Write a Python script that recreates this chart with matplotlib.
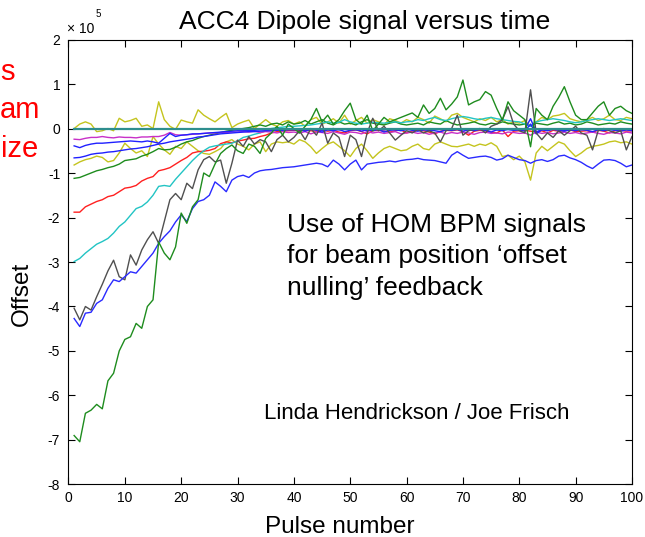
import numpy as np
import matplotlib.pyplot as plt

plt.rcParams['font.family'] = ['Liberation Sans', 'DejaVu Sans']

# pulse index
pulses = np.arange(1, 101)

# dipole offset per pulse, in units of 1e5
green_big = [
    -6.90, -7.04, -6.40, -6.33, -6.20, -6.30, -5.67, -5.50, -5.00, -4.74,
    -4.68, -4.38, -4.49, -4.00, -3.85, -2.55, -2.80, -2.95, -2.66, -1.90,
    -2.13, -1.76, -1.60, -1.00, -1.08, -0.80, -0.56, -0.45, -0.37, -0.50,
    -0.56, -0.35, -0.40, -0.56, -0.22, -0.10, 0.05, -0.15, 0.10, 0.00,
    -0.10, 0.05, 0.20, 0.45, 0.15, 0.30, 0.10, 0.20, 0.40, 0.57,
    0.20, 0.10, 0.30, -0.05, 0.10, 0.25, 0.15, 0.20, 0.25, 0.30,
    0.35, 0.25, 0.53, 0.34, 0.45, 0.68, 0.42, 0.55, 0.71, 1.09,
    0.53, 0.60, 0.65, 0.83, 0.75, 0.45, 0.19, 0.60, 0.40, 0.30,
    0.20, -0.41, 0.45, 0.30, 0.20, 0.50, 0.70, 0.94, 0.60, 0.30,
    0.20, 0.20, 0.35, 0.50, 0.60, 0.30, 0.45, 0.50, 0.40, 0.34]

blue_big = [
    -4.27, -4.45, -4.15, -4.13, -3.93, -3.85, -3.59, -3.40, -3.44, -3.33,
    -3.22, -3.25, -3.10, -2.95, -2.80, -2.58, -2.43, -2.30, -2.10, -1.94,
    -2.09, -1.80, -1.64, -1.60, -1.50, -1.20, -1.30, -1.42, -1.16, -1.08,
    -1.05, -1.10, -1.00, -0.95, -0.93, -0.92, -0.90, -0.88, -0.87, -0.86,
    -0.84, -0.82, -0.80, -0.78, -0.80, -0.86, -0.71, -0.80, -0.93, -0.80,
    -0.71, -0.93, -0.80, -0.78, -0.76, -0.75, -0.73, -0.75, -0.72, -0.70,
    -0.69, -0.67, -0.70, -0.71, -0.72, -0.75, -0.78, -0.60, -0.52, -0.60,
    -0.67, -0.65, -0.63, -0.62, -0.65, -0.71, -0.68, -0.60, -0.65, -0.70,
    -0.72, -0.78, -0.72, -0.70, -0.74, -0.70, -0.62, -0.60, -0.66, -0.70,
    -0.76, -0.84, -0.90, -0.80, -0.71, -0.70, -0.72, -0.78, -0.86, -0.82]

gray_big = [
    -4.04, -4.30, -4.00, -4.08, -3.78, -3.50, -3.20, -2.96, -3.33, -3.40,
    -2.84, -3.07, -2.73, -2.50, -2.32, -2.58, -2.09, -1.60, -1.46, -1.60,
    -1.23, -1.35, -0.93, -0.70, -0.63, -0.75, -0.71, -1.23, -0.78, -0.26,
    -0.40, -0.18, -0.35, -0.25, -0.30, -0.52, -0.25, -0.15, -0.30, -0.20,
    -0.05, -0.25, 0.00, -0.15, 0.12, -0.33, -0.10, -0.20, -0.63, -0.15,
    -0.25, -0.63, -0.10, 0.23, -0.05, 0.05, -0.10, -0.26, -0.15, -0.05,
    -0.10, -0.02, -0.10, -0.05, -0.10, -0.30, -0.05, 0.00, 0.30, -0.15,
    -0.05, -0.02, 0.00, -0.10, 0.05, 0.10, 0.20, 0.49, 0.10, -0.05,
    -0.10, 0.87, -0.10, -0.25, -0.10, -0.20, -0.05, -0.15, -0.05, 0.05,
    -0.10, -0.15, -0.48, -0.05, 0.00, -0.05, -0.10, -0.05, -0.48, -0.18]

cyan_sig = [
    -2.99, -2.92, -2.80, -2.70, -2.60, -2.54, -2.47, -2.35, -2.20, -2.10,
    -1.95, -1.80, -1.75, -1.65, -1.50, -1.30, -1.28, -1.30, -1.14, -1.00,
    -0.86, -0.72, -0.60, -0.50, -0.42, -0.39, -0.37, -0.35, -0.33, -0.28,
    -0.20, -0.17, -0.13, -0.10, -0.05, 0.00, 0.02, 0.03, 0.05, 0.05,
    0.06, 0.07, 0.08, 0.10, 0.12, 0.15, 0.12, 0.14, 0.20, 0.15,
    0.12, 0.10, 0.12, 0.14, 0.13, 0.12, 0.14, 0.15, 0.13, 0.15,
    0.16, 0.20, 0.18, 0.22, 0.25, 0.20, 0.18, 0.22, 0.25, 0.27,
    0.25, 0.22, 0.20, 0.23, 0.25, 0.22, 0.20, 0.18, 0.16, 0.15,
    0.10, 0.05, 0.15, 0.18, 0.20, 0.22, 0.20, 0.18, 0.15, 0.13,
    0.15, 0.18, 0.20, 0.22, 0.20, 0.18, 0.20, 0.22, 0.20, 0.18]

red_sig = [
    -1.88, -1.88, -1.76, -1.70, -1.64, -1.60, -1.53, -1.50, -1.42, -1.34,
    -1.32, -1.28, -1.18, -1.12, -1.08, -0.95, -0.92, -0.88, -0.80, -0.72,
    -0.65, -0.55, -0.52, -0.51, -0.49, -0.45, -0.34, -0.30, -0.32, -0.28,
    -0.26, -0.23, -0.22, -0.18, -0.15, -0.10, -0.07, -0.06, -0.05, -0.04,
    -0.05, -0.04, -0.05, -0.06, -0.03, -0.06, -0.04, -0.08, -0.10, -0.05,
    -0.03, -0.07, -0.12, -0.05, -0.04, -0.06, -0.08, -0.05, -0.03, -0.10,
    -0.06, -0.04, -0.05, -0.08, -0.12, -0.06, -0.04, -0.05, -0.03, -0.07,
    -0.15, -0.06, -0.04, -0.05, -0.08, -0.10, -0.03, -0.18, -0.06, -0.05,
    -0.04, -0.06, -0.08, -0.05, -0.10, -0.04, -0.06, -0.05, -0.03, -0.07,
    -0.06, -0.05, -0.08, -0.04, -0.06, -0.10, -0.05, -0.04, -0.06, -0.05]

green_sig = [
    -1.12, -1.10, -1.05, -1.00, -0.95, -0.92, -0.88, -0.85, -0.80, -0.72,
    -0.70, -0.68, -0.62, -0.58, -0.52, -0.45, -0.48, -0.47, -0.42, -0.35,
    -0.30, -0.27, -0.22, -0.18, -0.15, -0.12, -0.09, -0.06, -0.04, -0.02,
    0.00, 0.02, 0.05, 0.08, 0.05, 0.10, 0.12, 0.08, 0.15, 0.10,
    0.12, 0.18, 0.10, 0.15, 0.20, 0.12, 0.08, 0.15, 0.10, 0.12,
    0.08, 0.15, 0.20, 0.12, 0.10, 0.08, 0.12, 0.15, 0.10, 0.08,
    0.10, 0.12, 0.08, 0.15, 0.12, 0.10, 0.18, 0.12, 0.08, 0.10,
    0.12, 0.15, 0.10, 0.08, 0.12, 0.10, 0.15, 0.12, 0.10, 0.08,
    0.10, 0.05, 0.12, 0.10, 0.08, 0.12, 0.15, 0.10, 0.12, 0.08,
    0.10, 0.15, 0.12, 0.08, 0.10, 0.12, 0.10, 0.15, 0.12, 0.10]

blue_mid = [
    -0.66, -0.65, -0.62, -0.58, -0.56, -0.55, -0.53, -0.52, -0.50, -0.48,
    -0.46, -0.45, -0.43, -0.41, -0.38, -0.35, -0.33, -0.30, -0.28, -0.26,
    -0.24, -0.22, -0.19, -0.18, -0.16, -0.14, -0.12, -0.11, -0.10, -0.09,
    -0.08, -0.07, -0.07, -0.06, -0.05, -0.05, -0.04, -0.04, -0.03, -0.03,
    -0.02, -0.03, -0.01, -0.02, -0.04, -0.02, 0.00, -0.03, -0.02, -0.01,
    -0.03, -0.02, -0.05, -0.01, -0.02, -0.03, -0.01, -0.02, -0.04, -0.02,
    -0.01, -0.03, -0.02, -0.05, -0.02, -0.01, -0.03, -0.02, -0.01, -0.02,
    -0.03, -0.02, -0.01, -0.04, -0.02, -0.03, -0.01, -0.02, -0.03, -0.02,
    -0.01, 0.22, -0.08, -0.02, -0.03, -0.01, -0.02, -0.04, -0.02, -0.01,
    -0.03, -0.02, -0.01, -0.02, -0.04, -0.02, -0.03, -0.01, -0.02, -0.03]

blue_top = [
    -0.39, -0.43, -0.38, -0.35, -0.33, -0.33, -0.32, -0.31, -0.30, -0.29,
    -0.28, -0.29, -0.30, -0.28, -0.30, -0.33, -0.22, -0.11, -0.18, -0.15,
    -0.14, -0.12, -0.12, -0.11, -0.10, -0.09, -0.08, -0.07, -0.06, -0.05,
    -0.05, -0.04, -0.04, -0.03, -0.03, -0.02, -0.02, -0.02, -0.01, -0.01,
    -0.03, -0.06, -0.02, -0.04, -0.08, -0.03, -0.05, -0.02, -0.07, -0.04,
    -0.02, -0.06, -0.03, -0.05, -0.02, -0.08, -0.04, -0.03, -0.05, -0.02,
    -0.04, -0.06, -0.03, -0.02, -0.05, -0.07, -0.03, -0.04, -0.02, -0.06,
    -0.03, -0.05, -0.02, -0.04, -0.08, -0.03, -0.05, -0.02, -0.04, -0.03,
    -0.06, 0.10, -0.12, -0.03, -0.05, -0.02, -0.04, -0.06, -0.03, -0.05,
    -0.02, -0.04, -0.07, -0.03, -0.05, -0.02, -0.04, -0.06, -0.03, -0.05]

magenta_sig = [
    -0.24, -0.25, -0.22, -0.20, -0.20, -0.18, -0.20, -0.21, -0.19, -0.20,
    -0.20, -0.21, -0.19, -0.19, -0.18, -0.18, -0.15, -0.09, -0.14, -0.15,
    -0.14, -0.13, -0.12, -0.11, -0.10, -0.10, -0.09, -0.09, -0.08, -0.08,
    -0.07, -0.08, -0.06, -0.09, -0.07, -0.08, -0.10, -0.07, -0.09, -0.08,
    -0.10, -0.07, -0.12, -0.08, -0.09, -0.11, -0.07, -0.10, -0.13, -0.08,
    -0.09, -0.12, -0.07, -0.10, -0.08, -0.11, -0.09, -0.07, -0.12, -0.10,
    -0.08, -0.11, -0.09, -0.13, -0.10, -0.08, -0.12, -0.09, -0.11, -0.08,
    -0.10, -0.13, -0.09, -0.08, -0.11, -0.10, -0.12, -0.08, -0.09, -0.11,
    -0.10, -0.15, -0.08, -0.11, -0.09, -0.12, -0.10, -0.08, -0.11, -0.09,
    -0.12, -0.10, -0.08, -0.11, -0.13, -0.09, -0.10, -0.12, -0.08, -0.10]

yellow_low = [
    -0.82, -0.75, -0.70, -0.67, -0.62, -0.65, -0.75, -0.72, -0.55, -0.33,
    -0.45, -0.55, -0.50, -0.63, -0.18, -0.35, -0.48, -0.58, -0.40, -0.45,
    -0.30, -0.40, -0.50, -0.56, -0.58, -0.52, -0.45, -0.30, -0.25, -0.35,
    -0.40, -0.48, -0.35, -0.30, -0.52, -0.35, -0.30, -0.32, -0.30, -0.35,
    -0.25, -0.30, -0.41, -0.56, -0.45, -0.35, -0.30, -0.40, -0.50, -0.63,
    -0.45, -0.35, -0.50, -0.67, -0.55, -0.45, -0.40, -0.45, -0.50, -0.48,
    -0.40, -0.35, -0.45, -0.48, -0.35, -0.30, -0.35, -0.40, -0.41, -0.38,
    -0.35, -0.40, -0.35, -0.38, -0.32, -0.40, -0.63, -0.60, -0.70, -0.62,
    -0.75, -1.16, -0.55, -0.40, -0.50, -0.40, -0.30, -0.35, -0.50, -0.63,
    -0.55, -0.45, -0.40, -0.38, -0.35, -0.30, -0.28, -0.32, -0.30, -0.35]

yellow_up = [
    0.00, 0.10, 0.15, 0.10, -0.07, -0.05, 0.00, -0.05, 0.23, 0.15,
    0.18, 0.23, 0.05, 0.08, 0.00, 0.60, 0.20, 0.05, -0.02, 0.19,
    0.15, 0.12, 0.42, 0.30, 0.22, 0.15, 0.25, 0.34, 0.02, 0.10,
    0.15, 0.19, 0.00, 0.10, 0.20, 0.10, 0.05, 0.15, 0.18, 0.10,
    0.15, 0.05, 0.20, 0.25, 0.10, 0.15, 0.22, 0.12, 0.30, 0.10,
    0.18, 0.25, 0.12, 0.20, 0.15, 0.08, 0.22, 0.18, 0.12, 0.20,
    0.15, 0.25, 0.20, 0.12, 0.28, 0.22, 0.15, 0.30, 0.34, 0.25,
    0.20, 0.15, 0.22, 0.18, 0.25, 0.15, 0.20, 0.10, 0.15, 0.12,
    0.18, 0.05, 0.15, 0.25, 0.20, 0.28, 0.30, 0.34, 0.22, 0.18,
    0.15, 0.20, 0.25, 0.18, 0.22, 0.30, 0.20, 0.18, 0.25, 0.22]

# reference channel that stays on zero
flat_ref = [0.0] * 100

ytick_vals = [-8, -7, -6, -5, -4, -3, -2, -1, 0, 1, 2]
xtick_vals = [0, 10, 20, 30, 40, 50, 60, 70, 80, 90, 100]

fig = plt.figure(figsize=(6.45, 5.37), dpi=100)
ax = fig.add_axes([0.1062, 0.0978, 0.8736, 0.8286])

lw = 1.0
ax.plot(pulses, yellow_low, color='#c4c41e', lw=lw)
ax.plot(pulses, yellow_up, color='#c4c41e', lw=lw)
ax.plot(pulses, green_sig, color='#1e8c1e', lw=lw)
ax.plot(pulses, red_sig, color='#ff2020', lw=lw)
ax.plot(pulses, cyan_sig, color='#22c4c4', lw=lw)
ax.plot(pulses, magenta_sig, color='#c830c8', lw=lw)
ax.plot(pulses, blue_top, color='#2020ff', lw=lw)
ax.plot(pulses, blue_mid, color='#2020ff', lw=lw)
ax.plot(pulses, gray_big, color='#505050', lw=lw)
ax.plot(pulses, blue_big, color='#2a2aff', lw=lw)
ax.plot(pulses, green_big, color='#1e8c1e', lw=lw)
ax.plot(pulses, flat_ref, color='#2e8e8e', lw=1.6)

ax.set_xlim(0, 100)
ax.set_ylim(-8, 2)
ax.set_xticks(xtick_vals)
ax.set_yticks(ytick_vals)
ax.set_yticklabels([str(v) for v in ytick_vals])
ax.tick_params(direction='in', length=5, width=0.8, top=True, right=True,
               labelsize=10)
ax.tick_params(axis='y', pad=6)
ax.tick_params(axis='x', pad=5)
for s in ax.spines.values():
    s.set_linewidth(0.8)

# exponent marker
fig.text(67 / 645, 1 - 33 / 537, '\u00d7 10', fontsize=10, va='baseline')
fig.text(96 / 645, 1 - 17 / 537, '5', fontsize=7, va='baseline')

# title and axis labels
fig.text(365 / 645, 1 - 29.5 / 537, 'ACC4 Dipole signal versus time',
         fontsize=19, ha='center', va='baseline')
fig.text(340 / 645, 1 - 533 / 537, 'Pulse number', fontsize=17.5,
         ha='center', va='baseline')
fig.text(22 / 645, 1 - 294 / 537, 'Offset', fontsize=17.5, rotation=90,
         ha='center', va='center')

# annotations
fig.text(287 / 645, 1 - 232 / 537, 'Use of HOM BPM signals', fontsize=19,
         va='baseline')
fig.text(287 / 645, 1 - 263 / 537, 'for beam position \u2018offset',
         fontsize=19, va='baseline')
fig.text(287 / 645, 1 - 294.5 / 537, 'nulling\u2019 feedback', fontsize=19,
         va='baseline')
fig.text(264 / 645, 1 - 419 / 537, 'Linda Hendrickson / Joe Frisch',
         fontsize=16, va='baseline')

# slide text cut off at the left edge
fig.text(15 / 645, 1 - 80 / 537, 's', fontsize=21, color='red',
         ha='right', va='baseline')
fig.text(40 / 645, 1 - 118 / 537, 'am', fontsize=21, color='red',
         ha='right', va='baseline')
fig.text(38 / 645, 1 - 157 / 537, 'ize', fontsize=21, color='red',
         ha='right', va='baseline')

fig.savefig('out.png', dpi=100)
